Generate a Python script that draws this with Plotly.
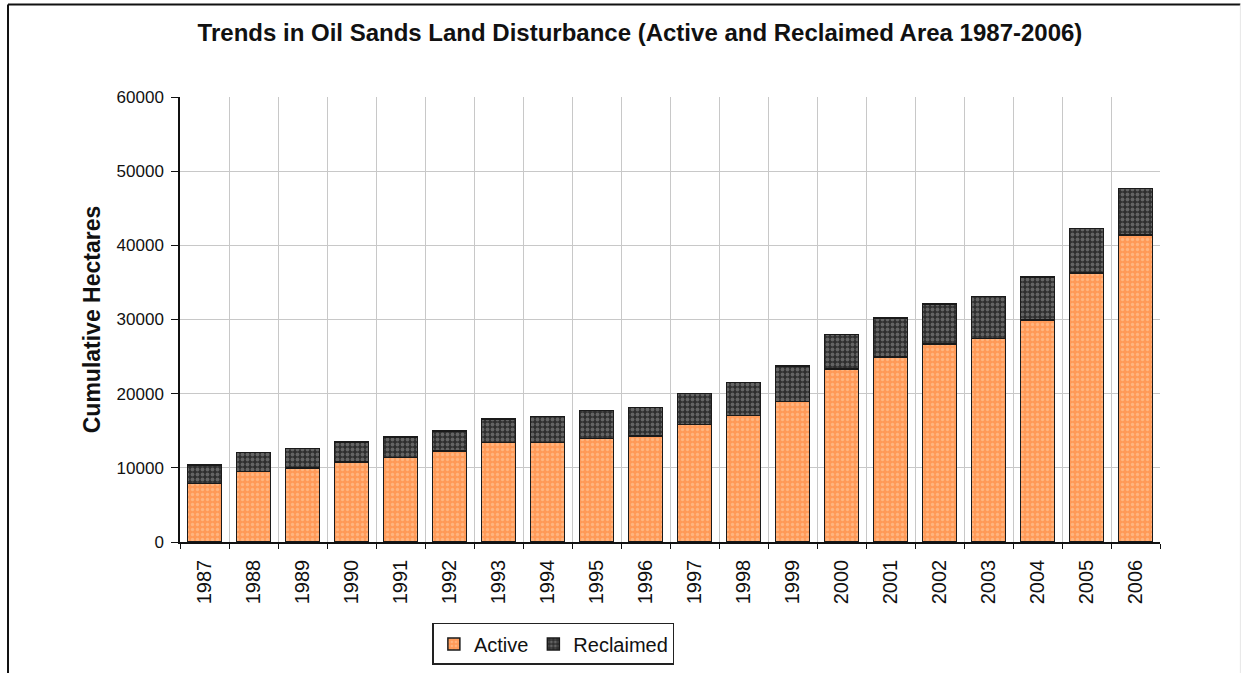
import plotly.graph_objects as go

years = [str(y) for y in range(1987, 2007)]
active = [7900, 9500, 9950, 10800, 11400, 12250, 13400, 13450, 13950, 14300,
          15850, 17050, 18950, 23300, 24950, 26700, 27450, 29900, 36250, 41400]
total = [10350, 12050, 12600, 13500, 14150, 15000, 16600, 16900, 17750, 18150,
         20050, 21500, 23700, 28000, 30200, 32100, 33100, 35700, 42300, 47650]
reclaimed = [t - a for t, a in zip(total, active)]
yticks = [0, 10000, 20000, 30000, 40000, 50000, 60000]

font = "Liberation Sans, Arial, sans-serif"

fig = go.Figure()
fig.add_trace(go.Bar(
    x=years, y=active, name="Active",
    marker=dict(color="#FF9A55", line=dict(color="#1a1a1a", width=1.5),
                pattern=dict(shape=".", fgcolor="#FFD0A8", bgcolor="#FF9A58",
                             size=5, solidity=0.35)),
))
fig.add_trace(go.Bar(
    x=years, y=reclaimed, name="Reclaimed",
    marker=dict(color="#444444", line=dict(color="#1a1a1a", width=1.5),
                pattern=dict(shape=".", fgcolor="#9a9a9a", bgcolor="#2e2e2e",
                             size=5, solidity=0.45)),
))

fig.update_layout(
    barmode="stack",
    bargap=0.3,
    width=1250, height=673,
    margin=dict(l=180, r=90, t=97, b=131, autoexpand=False),
    paper_bgcolor="white",
    plot_bgcolor="white",
    font=dict(family=font, color="#111111", size=14),
    title=dict(text="<b>Trends in Oil Sands Land Disturbance (Active and Reclaimed Area 1987-2006)</b>",
               x=0.512, xanchor="center", y=0.952, yanchor="middle",
               font=dict(size=24, family=font, color="#111111")),
    legend=dict(orientation="h", x=0.381, xanchor="center", y=-0.229, yanchor="middle",
                bordercolor="#222222", borderwidth=1.5, bgcolor="white",
                font=dict(size=20, family=font), itemwidth=30, tracegroupgap=0,
                traceorder="normal"),
    showlegend=True,
)
fig.update_xaxes(
    type="category", tickson="boundaries", showgrid=True, gridcolor="#c8c8c8", gridwidth=1,
    showline=True, linecolor="#111111", linewidth=1.5,
    ticks="outside", ticklen=5, tickcolor="#111111",
    tickangle=-90, tickfont=dict(size=20, family=font), ticklabelstandoff=8,
    range=[-0.5, 19.5], mirror=False,
)
fig.update_yaxes(
    range=[0, 60000], tickvals=yticks, ticktext=[str(v) for v in yticks],
    showgrid=True, gridcolor="#c8c8c8", gridwidth=1,
    showline=True, linecolor="#111111", linewidth=1.5,
    ticks="outside", ticklen=7, tickcolor="#111111",
    tickfont=dict(size=17, family=font), ticklabelstandoff=4,
    title=dict(text="<b>Cumulative Hectares</b>", font=dict(size=23, family=font), standoff=10),
    zeroline=False,
)
# outer chart frame (left and top dark, right faint)
fig.add_shape(type="line", xref="paper", yref="paper",
              x0=-0.1755, x1=-0.1755, y0=-0.35, y1=1.208,
              line=dict(color="#111111", width=2))
fig.add_shape(type="line", xref="paper", yref="paper",
              x0=-0.1755, x1=1.082, y0=1.208, y1=1.208,
              line=dict(color="#111111", width=2))
fig.add_shape(type="line", xref="paper", yref="paper",
              x0=1.082, x1=1.082, y0=-0.35, y1=1.208,
              line=dict(color="#e6e6e6", width=1))

fig.write_html("out.html")
